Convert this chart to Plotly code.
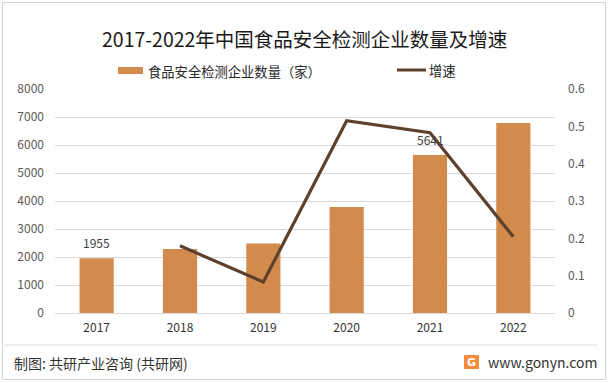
import plotly.graph_objects as go

years = ["2017", "2018", "2019", "2020", "2021", "2022"]
companies = [1955, 2290, 2480, 3790, 5641, 6790]
growth_years = ["2018", "2019", "2020", "2021", "2022"]
growth = [0.180, 0.083, 0.515, 0.483, 0.204]
labelled = {"2017": 1955, "2021": 5641}

title = "2017-2022年中国食品安全检测企业数量及增速"
bar_name = "食品安全检测企业数量（家）"
line_name = "增速"
source = "制图: 共研产业咨询 (共研网)"
site = "www.gonyn.com"

W, H = 611, 383
BAR_COLOR = "#D38B4D"
LINE_COLOR = "#5E412C"
FONT = "Noto Sans CJK SC"
TICK_COLOR = "#595959"

def px(x):
    return x / W

def py(y):
    return 1 - y / H

fig = go.Figure()
fig.add_trace(go.Bar(x=years, y=companies, name=bar_name, marker_color=BAR_COLOR,
                     width=0.41, yaxis="y"))
fig.add_trace(go.Scatter(x=growth_years, y=growth, name=line_name, mode="lines",
                         line=dict(color=LINE_COLOR, width=3.2), yaxis="y2"))

annotations = []
for yr, v in labelled.items():
    annotations.append(dict(x=yr, y=v, xref="x", yref="y", text=str(v), showarrow=False,
                            yanchor="bottom", yshift=5,
                            font=dict(family=FONT, size=12, color="#404040")))

annotations += [
    dict(x=px(304), y=py(39), xref="paper", yref="paper", text=title, showarrow=False,
         xanchor="center", yanchor="middle", font=dict(family=FONT, size=19.5, color="#1a1a1a")),
    dict(x=px(146), y=py(71), xref="paper", yref="paper", text=bar_name, showarrow=False,
         xanchor="left", yanchor="middle", font=dict(family=FONT, size=13.3, color="#262626")),
    dict(x=px(427), y=py(70), xref="paper", yref="paper", text=line_name, showarrow=False,
         xanchor="left", yanchor="middle", font=dict(family=FONT, size=13.3, color="#262626")),
    dict(x=px(12), y=py(363), xref="paper", yref="paper", text=source, showarrow=False,
         xanchor="left", yanchor="middle", font=dict(family=FONT, size=14, color="#333333")),
    dict(x=px(486), y=py(362), xref="paper", yref="paper", text=site, showarrow=False,
         xanchor="left", yanchor="middle", font=dict(family=FONT, size=14, color="#333333")),
    dict(x=px(471.5), y=py(362), xref="paper", yref="paper", text="<b>G</b>", showarrow=False,
         xanchor="center", yanchor="middle", font=dict(family="DejaVu Sans", size=11, color="white")),
]

shapes = [
    dict(type="rect", xref="paper", yref="paper", x0=px(2.5), x1=px(605.5), y0=py(2.5), y1=py(379.5),
         line=dict(color="#d4d4d4", width=1), fillcolor="rgba(0,0,0,0)", layer="below"),
    dict(type="line", xref="paper", yref="paper", x0=px(5), x1=px(597), y0=py(345), y1=py(345),
         line=dict(color="#d9d9d9", width=1)),
    dict(type="rect", xref="paper", yref="paper", x0=px(118), x1=px(143), y0=py(67), y1=py(74),
         line=dict(width=0), fillcolor=BAR_COLOR),
    dict(type="line", xref="paper", yref="paper", x0=px(397), x1=px(426), y0=py(70), y1=py(70),
         line=dict(color=LINE_COLOR, width=3)),
    dict(type="rect", xref="paper", yref="paper", x0=px(464), x1=px(479), y0=py(355), y1=py(369),
         line=dict(width=0), fillcolor="#F58B3E"),
]

fig.update_layout(
    template="none",
    width=W, height=H,
    margin=dict(l=0, r=0, t=0, b=0),
    paper_bgcolor="white", plot_bgcolor="white",
    showlegend=False,
    font=dict(family=FONT, size=12, color=TICK_COLOR),
    xaxis=dict(domain=[px(55), px(555)], automargin=False, showgrid=False, showline=False,
               zeroline=False, ticks="", tickfont=dict(family=FONT, size=12, color="#333333"),
               ticklabelstandoff=6),
    yaxis=dict(domain=[py(313), py(89)], automargin=False, range=[0, 8000], dtick=1000,
               tickformat="d", showgrid=True, gridcolor="#d9d9d9", gridwidth=1,
               zeroline=True, zerolinecolor="#d9d9d9", zerolinewidth=1, showline=False,
               ticks="", tickfont=dict(family=FONT, size=12, color=TICK_COLOR),
               ticklabelstandoff=10),
    yaxis2=dict(overlaying="y", side="right", anchor="x", automargin=False, range=[0, 0.6],
                dtick=0.1, showgrid=False, zeroline=False, showline=False, ticks="",
                tickfont=dict(family=FONT, size=12, color=TICK_COLOR), ticklabelstandoff=12),
    annotations=annotations,
    shapes=shapes,
    bargap=0.59,
)

fig.write_html("out.html", config={"displayModeBar": False},
               post_script="document.body.style.margin='0';document.body.style.overflow='hidden';")
